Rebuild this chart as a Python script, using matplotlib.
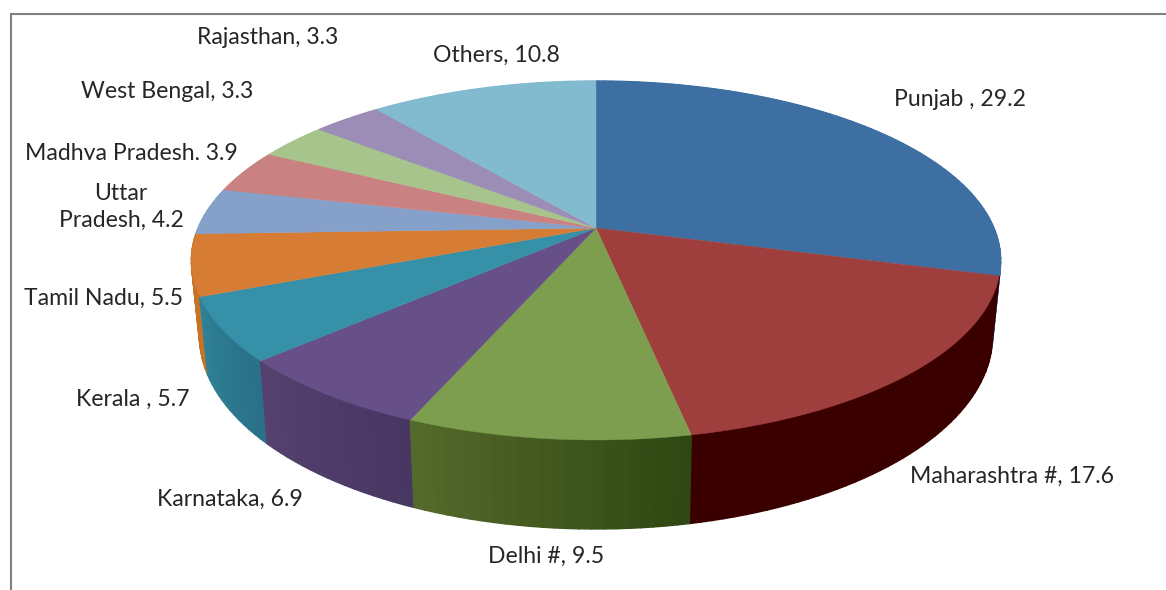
import numpy as np
import matplotlib
matplotlib.use('Agg')
import matplotlib.pyplot as plt
from matplotlib.collections import PolyCollection
from matplotlib.patches import Rectangle

states = ['Punjab', 'Maharashtra #', 'Delhi #', 'Karnataka', 'Kerala', 'Tamil Nadu',
          'Uttar Pradesh', 'Madhya Pradesh', 'West Bengal', 'Rajasthan', 'Others']
shares = [29.2, 17.6, 9.5, 6.9, 5.7, 5.5, 4.2, 3.9, 3.3, 3.3, 10.8]
top_colors = ['#3E6FA2', '#9E3F3E', '#7C9E4E', '#674F88', '#3590A8', '#D67C35',
              '#85A0C9', '#C98281', '#A8C48D', '#9C8DB6', '#82BBCF']
# side wall colour at the start and the end of each slice (clockwise)
side_start = ['#3E6FA2', '#3A0000', '#2F4712', '#483663', '#2A7088', '#C87224',
              '#85A0C9', '#C98281', '#A8C48D', '#9C8DB6', '#82BBCF']
side_end = ['#3E6FA2', '#3A0000', '#566B2D', '#56416F', '#2F8398', '#C87224',
            '#85A0C9', '#C98281', '#A8C48D', '#9C8DB6', '#82BBCF']

# label text, centre x, centre y (pixels)
labels = [('Rajasthan, 3.3', 268, 38), ('Others, 10.8', 496, 55), ('Punjab , 29.2', 960, 100),
          ('West Bengal, 3.3', 167, 92), ('Madhya Pradesh, 3.9', 131, 154), ('Uttar', 121, 193),
          ('Pradesh, 4.2', 121, 220), ('Tamil Nadu, 5.5', 103, 298), ('Kerala , 5.7', 133, 399),
          ('Karnataka, 6.9', 230, 499), ('Delhi #, 9.5', 546, 556), ('Maharashtra #, 17.6', 1012, 476)]

CX, CY = 596, 228
A, B, K = 398, 173.6, 0.181


def project(theta, scale_x=1.0, scale_y=1.0, drop=0.0):
    # theta is clockwise from the top, perspective tilts the disc towards the viewer
    u = np.sin(theta)
    v = np.cos(theta)
    w = 1 + K * v
    return CX + scale_x * A * u / w, CY + drop - scale_y * B * v / w


def mix(c1, c2, t):
    c1 = np.array(matplotlib.colors.to_rgb(c1))
    c2 = np.array(matplotlib.colors.to_rgb(c2))
    return tuple(c1 + (c2 - c1) * t)


fig = plt.figure(figsize=(11.66, 5.9), dpi=100)
ax = fig.add_axes([0, 0, 1, 1])
ax.set_xlim(0, 1166)
ax.set_ylim(590, 0)
ax.axis('off')

# frame
ax.plot([11, 11, 1166], [590, 14, 14], color='#808080', lw=1.5, solid_joinstyle='miter')

edges = np.cumsum([0] + shares) / sum(shares) * 2 * np.pi

# side wall, short quads from back to front
quads, quad_colors, quad_depth = [], [], []
for i in range(len(shares)):
    n = max(int((edges[i + 1] - edges[i]) * 40), 2)
    t = np.linspace(edges[i], edges[i + 1], n + 1)
    for j in range(n):
        x1, y1 = project(t[j])
        x2, y2 = project(t[j + 1])
        x3, y3 = project(t[j + 1], scale_x=0.98, scale_y=1.077, drop=72.7)
        x4, y4 = project(t[j], scale_x=0.98, scale_y=1.077, drop=72.7)
        quads.append([(x1, y1), (x2, y2), (x3, y3), (x4, y4)])
        quad_colors.append(mix(side_start[i], side_end[i], j / n))
        quad_depth.append(np.cos(t[j]))
order = np.argsort(quad_depth)[::-1]
ax.add_collection(PolyCollection([quads[k] for k in order],
                                 facecolors=[quad_colors[k] for k in order],
                                 edgecolors=[quad_colors[k] for k in order], linewidths=1.0))

# top of the pie
for i in range(len(shares)):
    t = np.linspace(edges[i], edges[i + 1], 120)
    xs, ys = project(t)
    pts = [(CX, CY)] + list(zip(xs, ys))
    ax.fill([p[0] for p in pts], [p[1] for p in pts], color=top_colors[i], lw=0.3)

for text, x, y in labels:
    tx = ax.text(x, y, text, ha='center', va='center', fontsize=16.6, family='Lato', color='#262626')
    if text.startswith('Madhya'):
        # bottom of this label is cut off in the source image
        tx.set_clip_path(Rectangle((0, 0), 400, 160, transform=ax.transData))
        tx.set_clip_on(True)

fig.savefig('out.png', dpi=100)
